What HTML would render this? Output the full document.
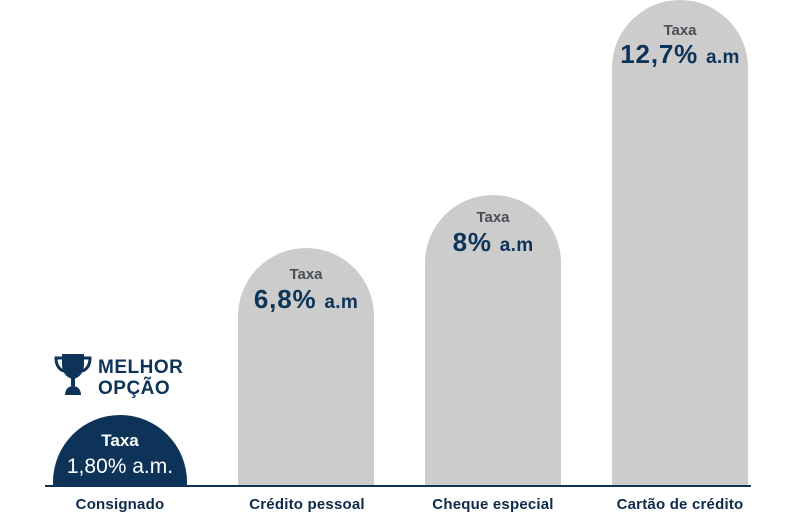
<!DOCTYPE html>
<html><head><meta charset="utf-8"><style>
body{margin:0;width:800px;height:513px;background:#fff;position:relative;overflow:hidden;font-family:"Liberation Sans",sans-serif}
.bar{position:absolute;background:#cccccc;border-radius:68px 68px 0 0;width:136px;bottom:27px}
.t{position:absolute;width:100%;text-align:center;font-weight:bold}
.t1{color:#4a4f55;font-size:15px}
.t2{color:#0d3358;font-size:26px;letter-spacing:0.8px}
.t2 small{font-size:19px;letter-spacing:0.3px}
.lab{position:absolute;top:496px;font-weight:bold;color:#0d2a4a;font-size:15px;width:200px;text-align:center;letter-spacing:0.2px}
</style></head><body>
<div class="bar" style="left:238px;top:248px"><div class="t t1" style="top:18px">Taxa</div><div class="t t2" style="top:36px">6,8% <small>a.m</small></div></div>
<div class="bar" style="left:425px;top:195px"><div class="t t1" style="top:14px">Taxa</div><div class="t t2" style="top:32px">8% <small>a.m</small></div></div>
<div class="bar" style="left:612px;top:0px"><div class="t t1" style="top:22px">Taxa</div><div class="t t2" style="top:39px">12,7% <small>a.m</small></div></div>
<div style="position:absolute;left:53px;top:415px;width:134px;height:71px;background:#0d3358;border-radius:67px 67px 0 0">
<div class="t" style="top:16px;color:#fff;font-size:17px">Taxa</div>
<div class="t" style="top:40px;color:#fff;font-size:21px;font-weight:normal">1,80% a.m.</div></div>
<div style="position:absolute;left:45px;top:485px;width:706px;height:1.5px;background:#0d3358"></div>
<svg style="position:absolute;left:54px;top:350px" width="40" height="48" viewBox="0 0 40 48">
<path d="M8 4h22v10c0 9-5 14-11 15-6-1-11-6-11-15z" fill="#0d3358"/>
<path d="M8 8H2c0 8 4 12 8 13M30 8h6c0 8-4 12-8 13" stroke="#0d3358" stroke-width="3" fill="none"/>
<rect x="17" y="28" width="4" height="8" fill="#0d3358"/><path d="M11 45c0-6 4-9 8-9s8 3 8 9z" fill="#0d3358"/></svg>
<div style="position:absolute;left:98px;top:357px;color:#0d3358;font-weight:bold;font-size:19px;line-height:21px;letter-spacing:0.5px">MELHOR<br>OPÇÃO</div>
<div class="lab" style="left:20px">Consignado</div>
<div class="lab" style="left:207px">Crédito pessoal</div>
<div class="lab" style="left:393px">Cheque especial</div>
<div class="lab" style="left:580px">Cartão de crédito</div>
</body></html>
